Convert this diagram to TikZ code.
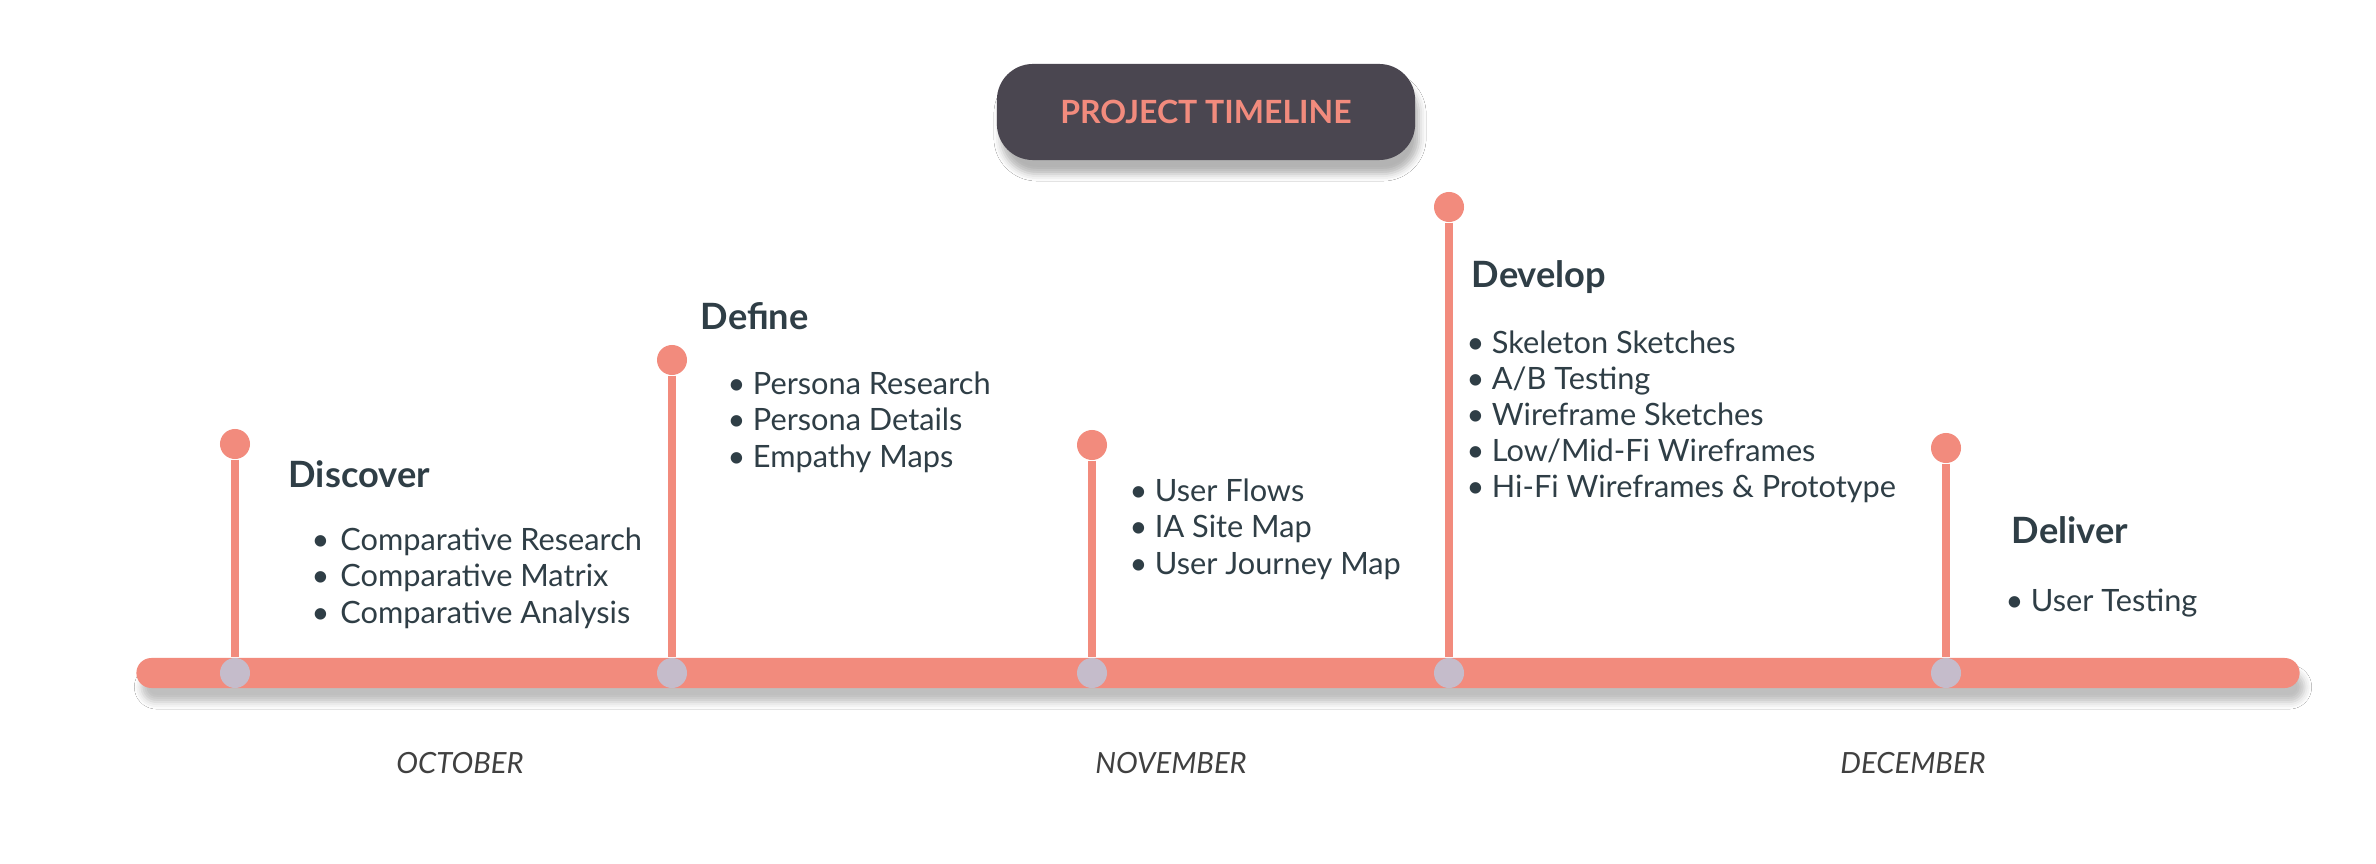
\documentclass[tikz,border=0pt]{standalone}
\usepackage{fontspec}
\setmainfont{Lato}
\usepackage{xcolor}
\usepackage{tikz}
\usetikzlibrary{positioning,shadows.blur}
\definecolor{salmon}{RGB}{242,139,125}
\definecolor{lilac}{RGB}{197,188,203}
\definecolor{slate}{RGB}{74,70,80}
\definecolor{ink}{RGB}{47,62,70}
\tikzset{
  bar/.style    ={rectangle, fill=salmon, rounded corners=0.15cm, minimum width=21.62cm, minimum height=0.3cm, inner sep=0pt,
                  blur shadow={shadow xshift=0.05cm, shadow yshift=-0.14cm, shadow opacity=25, shadow blur radius=0.07cm}},
  knob/.style   ={circle, fill=salmon, minimum size=0.3cm, inner sep=0pt},
  joint/.style  ={circle, fill=lilac, minimum size=0.3cm, inner sep=0pt},
  stem/.style   ={draw=salmon, line width=0.08cm},
  head/.style   ={anchor=base west, inner sep=0pt, text=ink, font=\fontsize{10.3}{12}\selectfont\bfseries},
  items/.style  ={anchor=base west, inner sep=0pt, text=ink, align=left, font=\fontsize{8.74}{10.24}\selectfont},
  month/.style  ={anchor=base, inner sep=0pt, text=black!75, font=\fontsize{8.3}{10}\selectfont\itshape},
  titlebox/.style={rectangle, rounded corners=0.36cm, fill=slate, text=salmon, minimum width=4.18cm, minimum height=0.96cm,
                  font=\fontsize{9.1}{11}\selectfont\bfseries,
                  blur shadow={shadow xshift=0.04cm, shadow yshift=-0.14cm, shadow opacity=30, shadow blur radius=0.07cm}},
}

\begin{document}
\begin{tikzpicture}[x=0.01cm,y=-0.01cm]
    \useasboundingbox[fill=white] (0,0) rectangle (2376,864);

    \node[titlebox] (title) at (1206,112) {PROJECT TIMELINE};

    % timeline
    \node[bar] (bar) at (1218,673) {};

    \node[knob] (k1) at (235,444) {};
    \node[knob] (k2) at (672,360) {};
    \node[knob] (k3) at (1092,445) {};
    \node[knob] (k4) at (1449,207) {};
    \node[knob] (k5) at (1946,448) {};
    \node[joint] (j1) at (235,673) {};
    \node[joint] (j2) at (672,673) {};
    \node[joint] (j3) at (1092,673) {};
    \node[joint] (j4) at (1449,673) {};
    \node[joint] (j5) at (1946,673) {};
    \draw[stem] (k1) -- (j1);
    \draw[stem] (k2) -- (j2);
    \draw[stem] (k3) -- (j3);
    \draw[stem] (k4) -- (j4);
    \draw[stem] (k5) -- (j5);

    % phases (lists are placed by their last line)
    \node[head] (discover) at (288,487) {Discover};
    \node[items] (discoverlist) at (311,623) {\textbullet\hspace{3.1pt}Comparative Research\\\textbullet\hspace{3.1pt}Comparative Matrix\\\textbullet\hspace{3.1pt}Comparative Analysis};
    \node[head] (define) at (700,330) {Define};
    \node[items] (definelist) at (727,467) {\textbullet\hspace{2.1pt}Persona Research\\\textbullet\hspace{2.1pt}Persona Details\\\textbullet\hspace{2.1pt}Empathy Maps};
    \node[items] (flowlist) at (1129,574) {\textbullet\hspace{2.1pt}User Flows\\\textbullet\hspace{2.1pt}IA Site Map\\\textbullet\hspace{2.1pt}User Journey Map};
    \node[head] (develop) at (1471,288) {Develop};
    \node[items] (developlist) at (1466,498) {\textbullet\hspace{2.1pt}Skeleton Sketches\\\textbullet\hspace{2.1pt}A/B Testing\\\textbullet\hspace{2.1pt}Wireframe Sketches\\\textbullet\hspace{2.1pt}Low/Mid-Fi Wireframes\\\textbullet\hspace{2.1pt}Hi-Fi Wireframes \& Prototype};
    \node[head] (deliver) at (2011,544) {Deliver};
    \node[items] (deliverlist) at (2005,611) {\textbullet\hspace{2.1pt}User Testing};

    % months
    \node[month] (oct) at (460,773) {OCTOBER};
    \node[month] (nov) at (1171,773) {NOVEMBER};
    \node[month] (dec) at (1913,773) {DECEMBER};
  \end{tikzpicture}
\end{document}
